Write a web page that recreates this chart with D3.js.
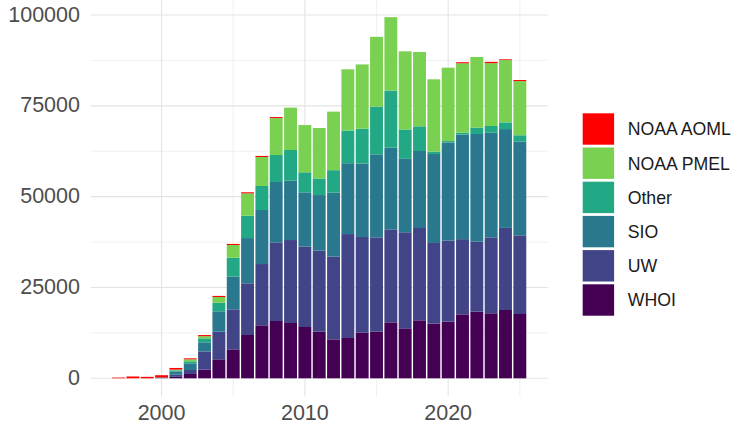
<!DOCTYPE html>
<html>
<head>
<meta charset="utf-8">
<script src="https://cdn.jsdelivr.net/npm/d3@7"></script>
<style>
  html, body { margin: 0; padding: 0; background: #ffffff; }
  svg { display: block; font-family: "Liberation Sans", Arial, sans-serif; }
</style>
</head>
<body>
<svg id="chart" width="735" height="430"></svg>
<script>
// ---- Data ----
const years = [1997,1998,1999,2000,2001,2002,2003,2004,2005,2006,2007,2008,2009,2010,2011,2012,2013,2014,2015,2016,2017,2018,2019,2020,2021,2022,2023,2024,2025];
const WHOI      = [0,0,0,0,400,1190,2400,5220,7970,11920,14580,15770,15220,14120,12840,10720,11100,12600,12850,15400,13750,15960,15050,15600,17600,18350,17900,18800,17700];
const UW        = [0,0,0,0,600,1100,5000,7620,11010,14220,16870,21650,22840,22110,22290,22760,28600,26300,25950,25600,26450,25410,22200,22300,20700,19250,20900,22600,21650];
const SIO       = [0,0,0,200,900,1830,2500,5590,8990,12460,14870,16610,16330,14950,15310,17610,19500,20200,22850,22500,20200,21200,24500,27000,28800,29650,28800,27200,25800];
const Other     = [0,0,0,0,300,550,1100,2390,5230,6150,6610,7430,8450,5520,4560,6200,9000,9600,13150,15700,8100,6790,650,400,500,1750,1850,1850,1750];
const NOAA_PMEL = [0,0,0,0,200,550,600,1560,3490,6150,7980,10165,11660,13000,13900,16110,16850,17700,19200,20200,21500,20460,19900,20200,19100,19450,17300,17150,14900];
const NOAA_AOML = [200,500,400,650,450,275,300,300,300,300,300,275,0,0,0,0,0,0,0,0,0,0,0,0,300,0,350,200,300];

const seriesNames = ["WHOI","UW","SIO","Other","NOAA PMEL","NOAA AOML"];
const seriesValues = [WHOI, UW, SIO, Other, NOAA_PMEL, NOAA_AOML];
const seriesColors = ["#440154","#414487","#2A788E","#22A884","#7AD151","#FF0000"];
const yTicks = [0, 25000, 50000, 75000, 100000];
const yMinor = [12500, 37500, 62500, 87500];
const xTicks = [2000, 2010, 2020];
const xMinor = [2005, 2015, 2025];

// ---- Build table ----
const table = years.map((yr, i) => {
  const row = { year: yr };
  seriesNames.forEach((n, j) => { row[n] = seriesValues[j][i]; });
  return row;
});

const svg = d3.select("#chart");

const x = d3.scaleLinear().domain([1995.055, 2026.945]).range([90.7, 547.7]);
const y = d3.scaleLinear().domain([0, 100000]).range([378.3, 15]);
const yLo = -4970, yHi = 104400;
const color = d3.scaleOrdinal().domain(seriesNames).range(seriesColors);

const grid = svg.append("g");
// minor gridlines
grid.selectAll("line.ymin").data(yMinor).join("line")
  .attr("x1", x.range()[0]).attr("x2", x.range()[1])
  .attr("y1", d => y(d)).attr("y2", d => y(d))
  .attr("stroke", "#ececec").attr("stroke-width", 0.8);
grid.selectAll("line.xmin").data(xMinor).join("line")
  .attr("y1", y(yLo)).attr("y2", y(yHi))
  .attr("x1", d => x(d)).attr("x2", d => x(d))
  .attr("stroke", "#ececec").attr("stroke-width", 0.8);
// major gridlines
grid.selectAll("line.ymaj").data(yTicks).join("line")
  .attr("x1", x.range()[0]).attr("x2", x.range()[1])
  .attr("y1", d => y(d)).attr("y2", d => y(d))
  .attr("stroke", "#e3e3e3").attr("stroke-width", 1.1);
grid.selectAll("line.xmaj").data(xTicks).join("line")
  .attr("y1", y(yLo)).attr("y2", y(yHi))
  .attr("x1", d => x(d)).attr("x2", d => x(d))
  .attr("stroke", "#e3e3e3").attr("stroke-width", 1.1);

// stacked bars
const stack = d3.stack().keys(seriesNames);
const layers = stack(table);
const half = 0.45;
svg.append("g").selectAll("g").data(layers).join("g")
  .attr("fill", d => color(d.key))
  .selectAll("rect").data(d => d.filter(s => s[1] - s[0] > 0)).join("rect")
  .attr("x", d => x(d.data.year - half))
  .attr("width", d => x(d.data.year + half) - x(d.data.year - half))
  .attr("y", d => y(d[1]))
  .attr("height", d => y(d[0]) - y(d[1]));

// y axis labels
const fmt = d3.format("d");
svg.append("g").selectAll("text").data(yTicks).join("text")
  .attr("x", 80).attr("y", d => y(d) + 6.5)
  .attr("text-anchor", "end")
  .attr("font-size", 21.5).attr("fill", "#4d4d4d")
  .text(d => fmt(d));

// x axis labels
svg.append("g").selectAll("text").data(xTicks).join("text")
  .attr("x", d => x(d)).attr("y", 420)
  .attr("text-anchor", "middle")
  .attr("font-size", 21.5).attr("fill", "#4d4d4d")
  .text(d => fmt(d));

// legend (reverse order: top = NOAA AOML)
const legendItems = seriesNames.slice().reverse();
const lg = svg.append("g").attr("transform", "translate(582.7,113.3)");
const li = lg.selectAll("g").data(legendItems).join("g")
  .attr("transform", (d, i) => `translate(0,${i * 34.2})`);
li.append("rect").attr("width", 31.4).attr("height", 31.4).attr("fill", d => color(d));
li.append("text").attr("x", 45).attr("y", 15.7 + 6.3)
  .attr("font-size", 17.7).attr("fill", "#1a1a1a")
  .text(d => d);
</script>
</body>
</html>
